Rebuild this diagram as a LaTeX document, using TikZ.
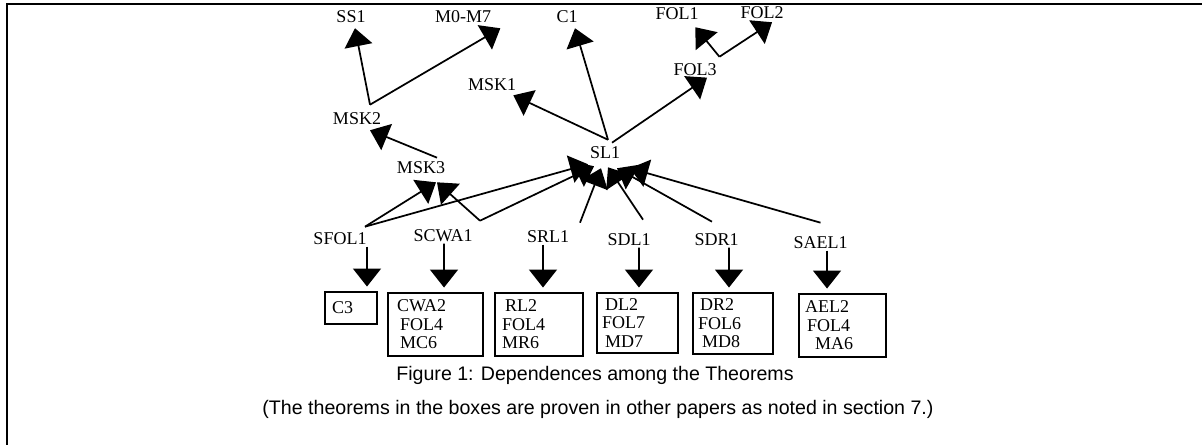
\documentclass[tikz,border=0pt]{standalone}
\usepackage{fontspec}
\setmainfont{Liberation Serif}
\newfontfamily\capfont{Liberation Sans}
\usetikzlibrary{arrows.meta, positioning}

\tikzset{
  thm/.style={inner sep=1pt, font=\fontsize{13.5}{14}\selectfont},
  thmbox/.style={draw, line width=1.2pt, inner xsep=3pt, inner ysep=2pt, align=left,
    font=\fontsize{13.5}{13.9}\selectfont},
  dep/.style={line width=1.3pt, -{Triangle[length=13.5pt,width=21pt]}},
  captext/.style={inner sep=1pt, font=\capfont\fontsize{14.7}{17}\selectfont},
}

\begin{document}
\begin{tikzpicture}[x=0.75pt, y=-0.75pt]
\useasboundingbox (0,0) rectangle (1202,445);
% Frame
\draw[line width=2.2pt] (7,445) -- (7,4) -- (1202,4);

% Theorems
\node[thm] (ss1)   at (351,17)  {SS1};
\node[thm] (m07)   at (463,17)  {M0-M7};
\node[thm] (c1)    at (567,17)  {C1};
\node[thm] (fol1)  at (677,14)  {FOL1};
\node[thm] (fol2)  at (762,13)  {FOL2};
\node[thm] (fol3)  at (695,70)  {FOL3};
\node[thm] (msk1)  at (492,85)  {MSK1};
\node[thm] (msk2)  at (357,119) {MSK2};
\node[thm] (sl1)   at (605,153) {SL1};
\node[thm] (msk3)  at (421,168) {MSK3};
\node[thm] (sfol1) at (340,239) {SFOL1};
\node[thm] (scwa1) at (443,236) {SCWA1};
\node[thm] (srl1)  at (548,237) {SRL1};
\node[thm] (sdl1)  at (629,240) {SDL1};
\node[thm] (sdr1)  at (716.5,240) {SDR1};
\node[thm] (sael1) at (820.5,243) {SAEL1};

% Boxes
\node[thmbox, text width=33pt, minimum height=24pt] (c3box) at (351,308) {\hspace*{2.25pt}C3};
\node[thmbox, text width=65.25pt, minimum height=47.25pt] (cwabox) at (435.5,324.5)
  {\hspace*{3.75pt}CWA2\\\hspace*{6pt}FOL4\\\hspace*{6pt}MC6};
\node[thmbox, text width=60pt, minimum height=47.25pt] (rlbox) at (539,324.5)
  {\hspace*{4.5pt}RL2\\\hspace*{2.25pt}FOL4\\\hspace*{2.25pt}MR6};
\node[thmbox, text width=54.75pt, minimum height=45pt] (dlbox) at (637.5,323)
  {\hspace*{3pt}DL2\\\hspace*{0.75pt}FOL7\\\hspace*{3pt}MD7};
\node[thmbox, text width=54pt, minimum height=45.75pt] (drbox) at (733,323.5)
  {\hspace*{2.25pt}DR2\\\hspace*{0.75pt}FOL6\\\hspace*{3.75pt}MD8};
\node[thmbox, text width=59.25pt, minimum height=47.25pt] (aelbox) at (842.5,325.5)
  {\hspace*{1.5pt}AEL2\\\hspace*{3pt}FOL4\\\hspace*{9pt}MA6};

% Upper dependences
\draw[dep] ([shift={(9.75pt,5pt)}]msk2.north) -- ([shift={(3pt,-2.7pt)}]ss1.south);
\draw[dep] ([shift={(9.75pt,5pt)}]msk2.north) -- ([shift={(5.8pt,-2.7pt)}]m07.south east);
\draw[dep] ([shift={(2.25pt,4.2pt)}]sl1.north) -- ([shift={(-3.2pt,-2pt)}]msk1.south east);
\draw[dep] ([shift={(2.25pt,4.2pt)}]sl1.north) -- ([shift={(6pt,-2.7pt)}]c1.south);
\draw[dep] ([shift={(5.25pt,2pt)}]sl1.north) -- ([shift={(9pt,0pt)}]fol3.south);
\draw[dep] ([shift={(1pt,4.2pt)}]fol3.north east) -- ([shift={(-3.6pt,-4.2pt)}]fol1.south east);
\draw[dep] ([shift={(1pt,4.2pt)}]fol3.north east) -- ([shift={(7.5pt,-1.2pt)}]fol2.south);
\draw[dep] ([shift={(12pt,2pt)}]msk3.north) -- ([shift={(9.75pt,-2.7pt)}]msk2.south);

% Lower dependences
\draw[dep] ([shift={(18.75pt,3.5pt)}]sfol1.north) -- ([shift={(11.25pt,-5pt)}]msk3.south);
\draw[dep] ([shift={(27.75pt,5.7pt)}]scwa1.north) -- ([shift={(12pt,-5pt)}]msk3.south);
\draw[dep] ([shift={(18.75pt,3.5pt)}]sfol1.north) -- ([shift={(-12.75pt,-2.7pt)}]sl1.south);
\draw[dep] ([shift={(27.75pt,5.7pt)}]scwa1.north) -- ([shift={(-8.25pt,-4.2pt)}]sl1.south);
\draw[dep] ([shift={(24pt,5pt)}]srl1.north) -- ([shift={(-3pt,-5.7pt)}]sl1.south);
\draw[dep] ([shift={(10.5pt,9.5pt)}]sdl1.north) -- ([shift={(2.25pt,-5pt)}]sl1.south);
\draw[dep] ([shift={(-3.4pt,8pt)}]sdr1.north) -- ([shift={(9pt,-5.7pt)}]sl1.south);
\draw[dep] ([shift={(0pt,9.5pt)}]sael1.north) -- ([shift={(18.75pt,-5.7pt)}]sl1.south);

% Into the boxes
\foreach \s/\sx/\b/\bx in {sfol1/20.25/c3box/12, scwa1/0.75/cwabox/6.4, srl1/-3.75/rlbox/3,
    sdl1/7.5/dlbox/1.1, sdr1/9.4/drbox/-3, sael1/4.9/aelbox/-11.6}
  \draw[dep, shorten >=3.5pt] ([xshift=\sx pt]\s.south) -- ([xshift=\bx pt]\b.north);

% Caption
\node[captext] (cap1) at (595,375) {Figure 1: Dependences among the Theorems};
\node[captext] (cap2) at (598,409) {(The theorems in the boxes are proven in other papers as noted in section 7.)};
\end{tikzpicture}
\end{document}
